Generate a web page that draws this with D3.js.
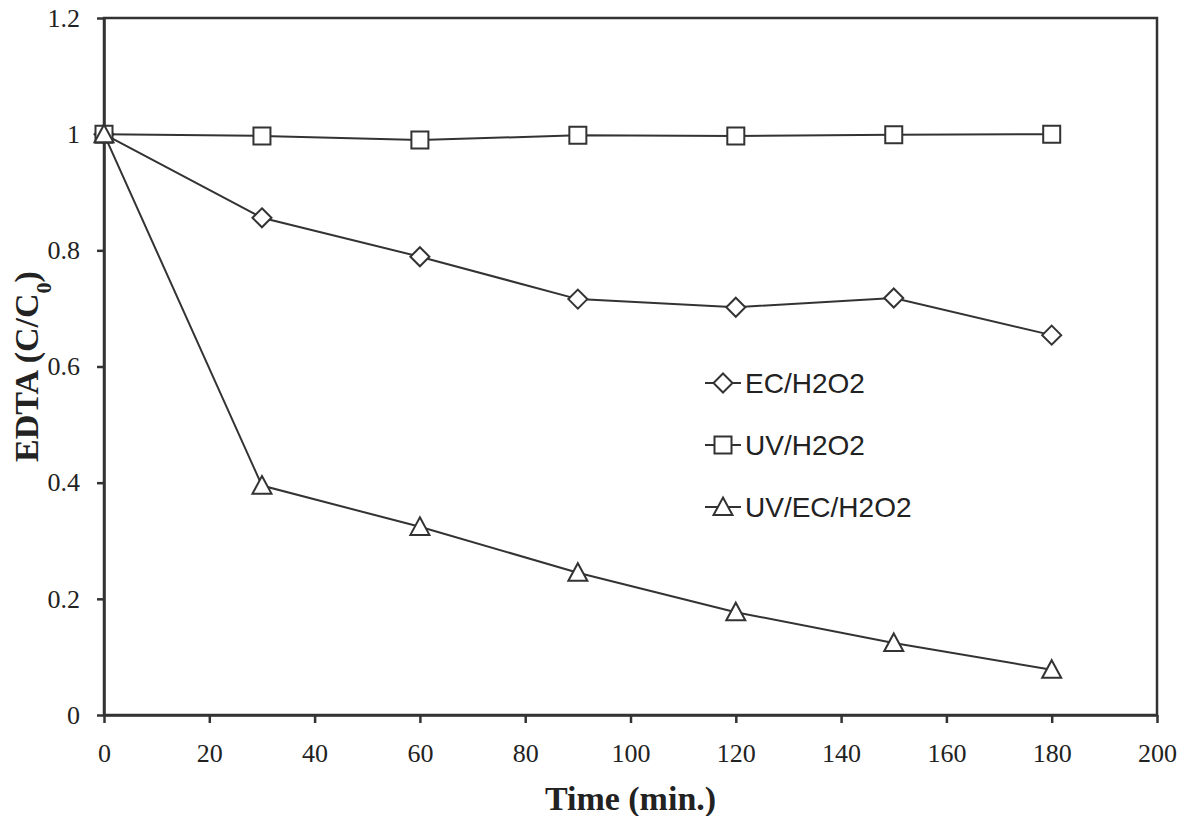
<!DOCTYPE html>
<html>
<head>
<meta charset="utf-8">
<script src="https://cdn.jsdelivr.net/npm/d3@7"></script>
<style>
  body { margin: 0; background: #fff; }
</style>
</head>
<body>
<div id="chart"></div>
<script>
// Data
const times = [0, 30, 60, 90, 120, 150, 180];
const ecH2O2 = [1.0, 0.856, 0.789, 0.716, 0.702, 0.718, 0.654];
const uvH2O2 = [1.0, 0.997, 0.990, 0.998, 0.997, 0.999, 1.0];
const uvEcH2O2 = [1.0, 0.395, 0.324, 0.245, 0.177, 0.124, 0.078];
const xTicks = [0, 20, 40, 60, 80, 100, 120, 140, 160, 180, 200];
const yTicks = [0, 0.2, 0.4, 0.6, 0.8, 1, 1.2];

const seriesList = [
  { name: "EC/H2O2", values: ecH2O2, shape: "diamond" },
  { name: "UV/H2O2", values: uvH2O2, shape: "square" },
  { name: "UV/EC/H2O2", values: uvEcH2O2, shape: "triangle" }
];

const W = 1189, H = 816;
const margin = { top: 18, right: 32, bottom: 101, left: 104 };
const width = W - margin.left - margin.right,
      height = H - margin.top - margin.bottom;
const serif = "'Liberation Serif', 'Times New Roman', serif";

const svg = d3.select("#chart").append("svg")
  .attr("width", W).attr("height", H);
const g = svg.append("g").attr("transform", `translate(${margin.left},${margin.top})`);

const x = d3.scaleLinear().domain([0, 200]).range([0, width]);
const y = d3.scaleLinear().domain([0, 1.2]).range([height, 0]);

// frame
g.append("rect").attr("width", width).attr("height", height)
  .attr("fill", "none").attr("stroke", "#333").attr("stroke-width", 2.5);

function styleAxis(a) {
  a.selectAll("text")
    .style("font-family", serif)
    .style("font-size", "26px")
    .style("fill", "#222");
  a.selectAll("line, .domain").attr("stroke", "#333").attr("stroke-width", 2.5);
}

// axes
g.append("g").attr("transform", `translate(0,${height})`)
  .call(d3.axisBottom(x).tickValues(xTicks).tickSize(8).tickPadding(21).tickSizeOuter(0))
  .call(styleAxis);

g.append("g")
  .call(d3.axisLeft(y).tickValues(yTicks).tickFormat(d3.format("")).tickSize(7).tickPadding(17).tickSizeOuter(0))
  .call(styleAxis);

// symbols
const symbolFor = {
  diamond: s => `M0,${-s}L${s},0L0,${s}L${-s},0Z`,
  square: s => `M${-s},${-s}H${s}V${s}H${-s}Z`,
  triangle: s => `M0,${-s}L${s},${s * 0.85}L${-s},${s * 0.85}Z`
};
const sizeFor = { diamond: 9.5, square: 8.5, triangle: 9.5 };

const line = d3.line().x(d => x(d[0])).y(d => y(d[1]));

seriesList.forEach(s => {
  const pts = times.map((t, i) => [t, s.values[i]]);
  g.append("path").datum(pts)
    .attr("d", line)
    .attr("fill", "none").attr("stroke", "#333").attr("stroke-width", 2);
});
// markers after all lines so they sit on top
seriesList.forEach(s => {
  const pts = times.map((t, i) => [t, s.values[i]]);
  g.selectAll(null).data(pts).enter().append("path")
    .attr("transform", d => `translate(${x(d[0])},${y(d[1])})`)
    .attr("d", symbolFor[s.shape](sizeFor[s.shape]))
    .attr("fill", "#fff").attr("stroke", "#333").attr("stroke-width", 2);
});

// legend
const legend = svg.append("g").attr("transform", "translate(705,383)");
seriesList.forEach((s, i) => {
  const row = legend.append("g").attr("transform", `translate(0,${i * 62})`);
  row.append("line").attr("x1", 0).attr("x2", 36).attr("y1", 0).attr("y2", 0)
    .attr("stroke", "#333").attr("stroke-width", 2);
  row.append("path").attr("transform", "translate(18,0)")
    .attr("d", symbolFor[s.shape](sizeFor[s.shape]))
    .attr("fill", "#fff").attr("stroke", "#333").attr("stroke-width", 2);
  row.append("text").attr("x", 40).attr("y", 0).attr("dy", "0.36em")
    .style("font-family", "'Liberation Sans', Arial, sans-serif")
    .style("font-size", "28px").style("fill", "#222")
    .text(s.name);
});

// axis titles
svg.append("text")
  .attr("x", margin.left + x(100)).attr("y", 810)
  .attr("text-anchor", "middle")
  .style("font-family", serif)
  .style("font-size", "34px").style("font-weight", "bold").style("fill", "#222")
  .text("Time (min.)");

const yTitle = svg.append("text")
  .attr("transform", `translate(38,${margin.top + y(0.6)}) rotate(-90)`)
  .attr("text-anchor", "middle")
  .style("font-family", serif)
  .style("font-size", "34px").style("font-weight", "bold").style("fill", "#222");
yTitle.append("tspan").text("EDTA (C/C");
yTitle.append("tspan").attr("baseline-shift", "sub").style("font-size", "22px").text("0");
yTitle.append("tspan").text(")");
</script>
</body>
</html>
